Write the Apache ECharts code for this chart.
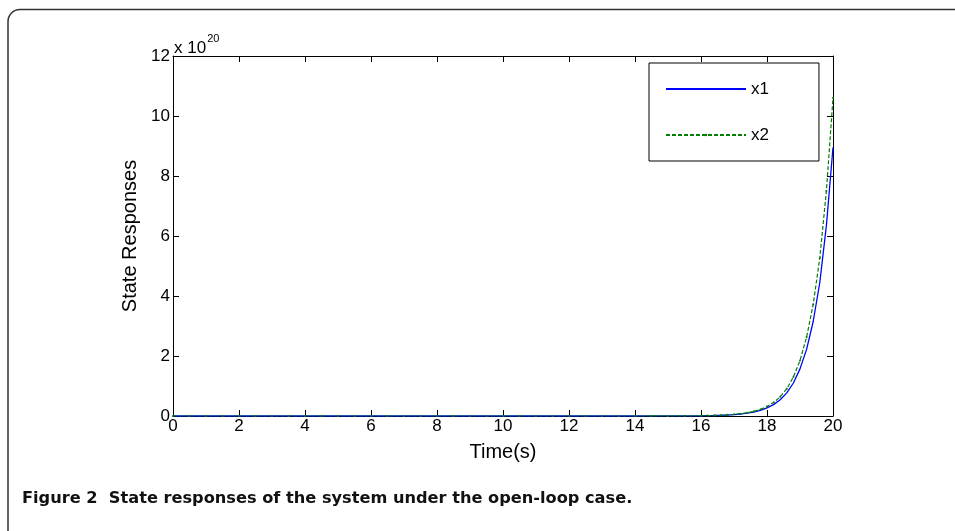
<!DOCTYPE html>
<html>
<head>
<meta charset="utf-8">
<script src="https://cdn.jsdelivr.net/npm/echarts@6/dist/echarts.min.js"></script>
<style>
  html, body { margin: 0; padding: 0; background: #fff; }
  #chart { width: 955px; height: 531px; }
</style>
</head>
<body>
<div id="chart"></div>
<script>
// time samples (s)
const times = [0, 0.5, 1, 1.5, 2, 2.5, 3, 3.5, 4, 4.5, 5, 5.5, 6, 6.5, 7, 7.5, 8, 8.5, 9, 9.5,
  10, 10.5, 11, 11.5, 12, 12.5, 13, 13.5, 14, 14.5, 15, 15.5,
  16, 16.2, 16.4, 16.6, 16.8, 17, 17.2, 17.4, 17.6, 17.8, 18, 18.2, 18.4, 18.6, 18.8,
  19, 19.2, 19.4, 19.6, 19.8, 20];
// state responses in units of 1e20
const x1 = [0, 0, 0, 0, 0, 0, 0, 0, 0, 0, 0, 0, 0, 0, 0, 0, 0, 0, 0, 0,
  0, 0, 0, 0, 0, 0, 0, 0, 0, 0.001, 0.002, 0.004,
  0.008, 0.011, 0.016, 0.023, 0.033, 0.047, 0.066, 0.094, 0.13, 0.19, 0.27, 0.38, 0.54, 0.77, 1.10,
  1.57, 2.22, 3.15, 4.45, 6.35, 8.95];
const x2 = [0, 0, 0, 0, 0, 0, 0, 0, 0, 0, 0, 0, 0, 0, 0, 0, 0, 0, 0, 0,
  0, 0, 0, 0, 0, 0, 0, 0, 0, 0.001, 0.002, 0.005,
  0.009, 0.013, 0.019, 0.027, 0.039, 0.055, 0.078, 0.11, 0.155, 0.22, 0.32, 0.45, 0.64, 0.91, 1.30,
  1.85, 2.63, 3.72, 5.27, 7.50, 10.6];
const seriesNames = ['x1', 'x2'];

const font = '"Liberation Sans", Arial, sans-serif';
const pairs = (ys) => times.map((t, i) => [t, ys[i]]);

const chart = echarts.init(document.getElementById('chart'));

const tick = { show: true, inside: true, length: 6, lineStyle: { color: '#000', width: 1 } };
const line = { show: true, onZero: false, lineStyle: { color: '#000', width: 1 } };

chart.setOption({
  animation: false,
  backgroundColor: '#fff',
  grid: { left: 173, right: 122, top: 56, bottom: 115 },
  xAxis: [{
    type: 'value', min: 0, max: 20, interval: 2,
    name: 'Time(s)', nameLocation: 'middle', nameGap: 26,
    nameTextStyle: { fontFamily: font, fontSize: 20, color: '#000' },
    axisLine: line, axisTick: tick,
    axisLabel: { fontFamily: font, fontSize: 17, color: '#000', margin: 2 },
    splitLine: { show: false }
  }, {
    type: 'value', min: 0, max: 20, interval: 2, position: 'top',
    axisLine: line, axisTick: tick,
    axisLabel: { show: false },
    splitLine: { show: false }
  }],
  yAxis: [{
    type: 'value', min: 0, max: 12, interval: 2,
    name: 'State Responses', nameLocation: 'middle', nameGap: 27,
    nameTextStyle: { fontFamily: font, fontSize: 20, color: '#000' },
    axisLine: line, axisTick: tick,
    axisLabel: { fontFamily: font, fontSize: 17, color: '#000', margin: 3 },
    splitLine: { show: false }
  }, {
    type: 'value', min: 0, max: 12, interval: 2, position: 'right',
    axisLine: line, axisTick: tick,
    axisLabel: { show: false },
    splitLine: { show: false }
  }],
  legend: {
    orient: 'vertical', left: 649, top: 63,
    data: [
      { name: seriesNames[0], itemStyle: { color: 'rgba(0,0,0,0)', borderWidth: 0 } },
      { name: seriesNames[1] }
    ],
    itemWidth: 80, itemHeight: 3, itemGap: 26,
    padding: [16, 50, 16, 16],
    borderColor: '#000', borderWidth: 1,
    backgroundColor: '#fff',
    textStyle: { fontFamily: font, fontSize: 17, color: '#000', lineHeight: 20 }
  },
  graphic: [{
    type: 'text', left: 174, top: 33,
    style: {
      text: '{a|x 10}{s|20}',
      rich: {
        a: { fontFamily: font, fontSize: 17, fill: '#000', verticalAlign: 'bottom', lineHeight: 24 },
        s: { fontFamily: font, fontSize: 11, fill: '#000', verticalAlign: 'top', lineHeight: 24, padding: [0, 0, 12, 1] }
      }
    }
  }, {
    type: 'rect', silent: true,
    shape: { x: 8, y: 9.5, width: 1000, height: 600, r: 12 },
    style: { fill: 'none', stroke: '#333', lineWidth: 1.5 }
  }, {
    type: 'text', left: 22, top: 491,
    style: {
      text: 'Figure 2  State responses of the system under the open-loop case.',
      fontFamily: '"DejaVu Sans", sans-serif', fontWeight: 'bold', fontSize: 16.2, fill: '#111'
    }
  }],
  series: [{
    name: seriesNames[0], type: 'line', data: pairs(x1),
    showSymbol: false, symbol: 'none',
    lineStyle: { color: '#0000ff', width: 1.3 },
    itemStyle: { color: '#0000ff' },
    z: 3
  }, {
    name: seriesNames[1], type: 'line', data: pairs(x2),
    symbol: 'circle', symbolSize: 2, showSymbol: true,
    lineStyle: { color: '#007f00', width: 1.2, type: [4, 2] },
    itemStyle: { color: '#007f00' },
    z: 4
  }]
});
</script>
</body>
</html>
